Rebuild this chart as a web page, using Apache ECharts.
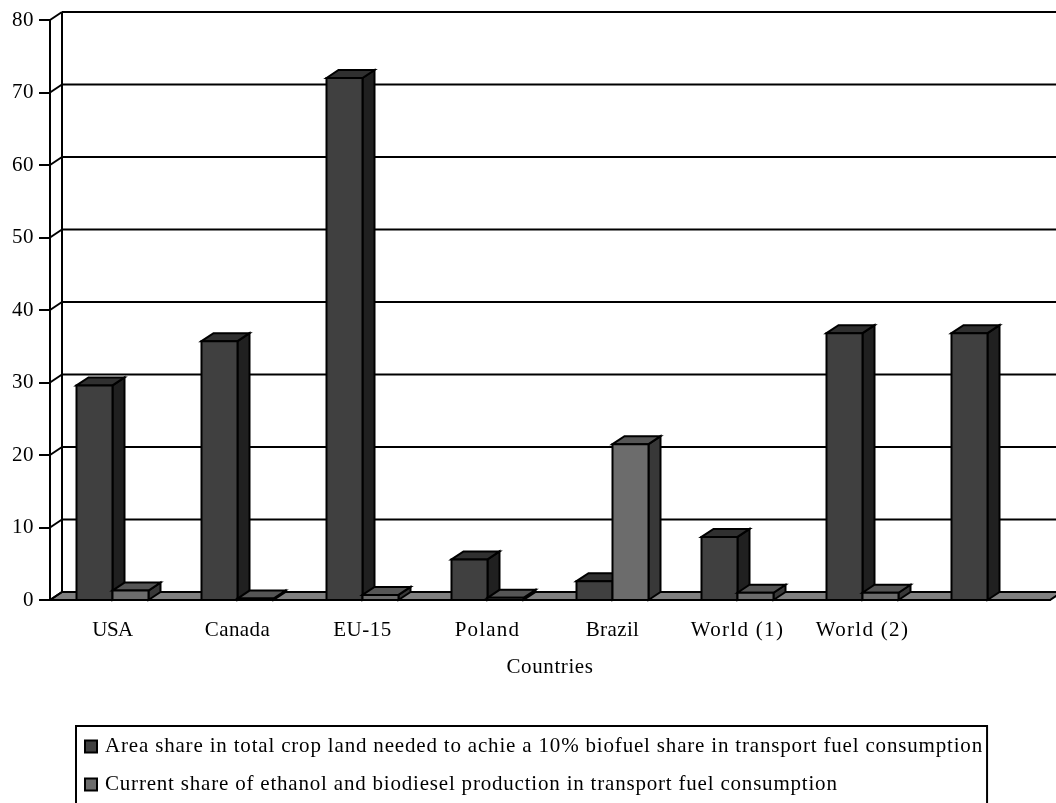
<!DOCTYPE html>
<html>
<head>
<meta charset="utf-8">
<script src="https://cdn.jsdelivr.net/npm/echarts@6/dist/echarts.min.js"></script>
<style>
html, body { margin: 0; padding: 0; background: #fff; }
#chart { width: 1056px; height: 803px; }
</style>
</head>
<body>
<div id="chart"></div>
<script>
var categories = ['USA', 'Canada', 'EU-15', 'Poland', 'Brazil', 'World (1)', 'World (2)', ''];
var areaShare = [29.6, 35.7, 72, 5.6, 2.6, 8.7, 36.8, 36.8];
var currentShare = [1.3, 0.2, 0.7, 0.3, 21.5, 1, 1, null];
var yTicks = [0, 10, 20, 30, 40, 50, 60, 70, 80];
var areaName = 'Area share in total crop land needed to achie a 10% biofuel share in transport fuel consumption';
var currentName = 'Current share of ethanol and biodiesel production in transport fuel consumption';
var xTitle = 'Countries';

var FONT = '"Liberation Serif", "Times New Roman", serif';
var depthX = 12, depthY = 8;

// the source has widely spaced text, zrender has no letter spacing option
var spacing = {};
spacing[areaName] = '0.82px';
spacing[currentName] = '0.8px';
spacing['USA'] = '-0.5px';
spacing['Canada'] = '0.4px';
spacing['Poland'] = '1.2px';
spacing['Brazil'] = '0.4px';
spacing['World (1)'] = '1.3px';
spacing['World (2)'] = '1.3px';
spacing[xTitle] = '0.6px';
var fillText = CanvasRenderingContext2D.prototype.fillText;
CanvasRenderingContext2D.prototype.fillText = function(t, x, y, m) {
    this.letterSpacing = spacing[t] || '0.5px';
    fillText.call(this, t, x, y, m);
};

function poly(points, fill) {
    return {
        type: 'polygon',
        shape: { points: points },
        style: { fill: fill, stroke: '#000', lineWidth: 2, lineJoin: 'miter' }
    };
}

// back wall lines and the floor
function renderWall(params, api) {
    var tick = api.value(1);
    var y = api.coord([0, tick])[1];
    var grid = params.coordSys;
    var x0 = grid.x, x1 = grid.x + grid.width;
    var children = [];
    if (tick == 0) {
        children.push(poly([[x0, y], [x0 + depthX, y - depthY], [x1 + depthX, y - depthY], [x1, y]], '#808080'));
    } else {
        children.push({
            type: 'line',
            shape: { x1: x0 + depthX, y1: y - depthY, x2: x1 + depthX, y2: y - depthY },
            style: { stroke: '#000', lineWidth: 2 }
        });
    }
    children.push({
        type: 'line',
        shape: { x1: x0, y1: y, x2: x0 + depthX, y2: y - depthY },
        style: { stroke: '#000', lineWidth: 2 }
    });
    if (tick == 80) {
        var bottom = api.coord([0, 0])[1];
        children.push({
            type: 'line',
            shape: { x1: x0 + depthX, y1: y - depthY, x2: x0 + depthX, y2: bottom - depthY },
            style: { stroke: '#000', lineWidth: 2 }
        });
    }
    return { type: 'group', children: children };
}

function barRenderer(slot, front, side, top) {
    return function(params, api) {
        var v = api.value(1);
        if (v == null || isNaN(v)) return null;
        var c = api.coord([api.value(0), v]);
        var base = api.coord([api.value(0), 0])[1];
        var catW = api.size([1, 0])[0];
        var w = catW * 0.288;
        var x = c[0] - w + slot * w;
        var y = c[1];
        return {
            type: 'group',
            children: [
                poly([[x + w, y], [x + w + depthX, y - depthY], [x + w + depthX, base - depthY], [x + w, base]], side),
                poly([[x, y], [x + depthX, y - depthY], [x + w + depthX, y - depthY], [x + w, y]], top),
                poly([[x, y], [x + w, y], [x + w, base], [x, base]], front)
            ]
        };
    };
}

function toPairs(values) {
    var out = [];
    for (var i = 0; i < values.length; i++) {
        out.push([i, values[i]]);
    }
    return out;
}

var wallData = [];
for (var t = 0; t < yTicks.length; t++) {
    wallData.push([0, yTicks[t]]);
}

var chart = echarts.init(document.getElementById('chart'));
chart.setOption({
    animation: false,
    backgroundColor: '#fff',
    grid: { left: 50, top: 20, width: 1000, height: 580 },
    xAxis: {
        type: 'category',
        data: categories,
        name: xTitle,
        nameLocation: 'middle',
        nameGap: 57,
        nameTextStyle: { fontFamily: FONT, fontSize: 21, color: '#000' },
        axisLine: { lineStyle: { color: '#000', width: 2 } },
        axisTick: { length: 12, lineStyle: { color: '#000', width: 2 } },
        axisLabel: { interval: 0, margin: 20, fontFamily: FONT, fontSize: 21, color: '#000' }
    },
    yAxis: {
        type: 'value',
        min: 0,
        max: 80,
        interval: 10,
        axisLine: { show: true, lineStyle: { color: '#000', width: 2 } },
        axisTick: { show: true, length: 11, lineStyle: { color: '#000', width: 2 } },
        axisLabel: { margin: 16, fontFamily: FONT, fontSize: 21, color: '#000' },
        splitLine: { show: false }
    },
    legend: {
        left: 76,
        top: 726,
        height: 100,
        orient: 'vertical',
        data: [areaName, currentName],
        icon: 'rect',
        itemWidth: 12,
        itemHeight: 12,
        itemGap: 17,
        padding: [10, 82, 10, 8],
        borderColor: '#000',
        borderWidth: 2,
        textStyle: { fontFamily: FONT, fontSize: 21, color: '#000', padding: [0, 0, 0, 3] },
        selectedMode: false
    },
    series: [
        {
            type: 'custom',
            name: 'wall',
            data: wallData,
            encode: { x: 0, y: 1 },
            z: 1,
            silent: true,
            renderItem: renderWall
        },
        {
            type: 'custom',
            name: areaName,
            data: toPairs(areaShare),
            encode: { x: 0, y: 1 },
            z: 2,
            itemStyle: { color: '#404040', borderColor: '#000', borderWidth: 2 },
            renderItem: barRenderer(0, '#404040', '#202020', '#303030')
        },
        {
            type: 'custom',
            name: currentName,
            data: toPairs(currentShare),
            encode: { x: 0, y: 1 },
            z: 3,
            itemStyle: { color: '#6c6c6c', borderColor: '#000', borderWidth: 2 },
            renderItem: barRenderer(1, '#6c6c6c', '#383838', '#555555')
        }
    ]
});
</script>
</body>
</html>
